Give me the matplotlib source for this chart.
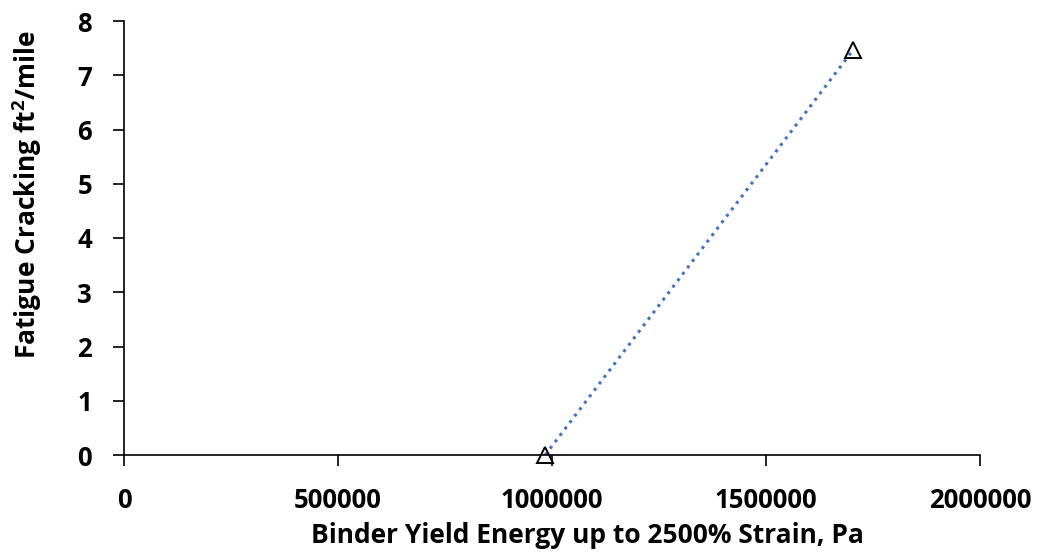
import numpy as np
import matplotlib.pyplot as plt

# data
yield_energy = [984000, 1703000]
fatigue_cracking = [0.0, 7.46]
x_ticks = [0, 500000, 1000000, 1500000, 2000000]
y_ticks = [0, 1, 2, 3, 4, 5, 6, 7, 8]

plt.rcParams['font.family'] = ['Open Sans', 'DejaVu Sans']
plt.rcParams['font.weight'] = 'bold'
plt.rcParams['mathtext.fontset'] = 'custom'
plt.rcParams['mathtext.bf'] = 'Open Sans:bold'

fig = plt.figure(figsize=(10.39, 5.54), dpi=100)
ax = fig.add_axes([124 / 1039, 1 - 455 / 554, (980 - 124) / 1039, (455 - 21) / 554])

# linear trendline (Excel style) through the points
coef = np.polyfit(yield_energy, fatigue_cracking, 1)
xt = np.array([min(yield_energy), max(yield_energy)])
ax.plot(xt, np.polyval(coef, xt), ':', color='#4472C4', linewidth=2.2, zorder=2)

ax.plot(yield_energy, fatigue_cracking, '^', markersize=11, markerfacecolor='none',
        markeredgecolor='black', markeredgewidth=1.4, linestyle='none', zorder=3, clip_on=False)

ax.set_xlim(0, 2000000)
ax.set_ylim(0, 8)
ax.set_xticks(x_ticks)
ax.set_yticks(y_ticks)
ax.set_xticklabels([str(v) for v in x_ticks], fontweight='bold')
ax.set_yticklabels([str(v) for v in y_ticks], fontweight='bold')
ax.tick_params(axis='both', labelsize=18.5, direction='out', length=8, width=1.2)
ax.tick_params(axis='x', pad=15)
ax.tick_params(axis='y', pad=15)

for s in ['top', 'right']:
    ax.spines[s].set_visible(False)
for s in ['left', 'bottom']:
    ax.spines[s].set_linewidth(1.2)

ax.set_xlabel('Binder Yield Energy up to 2500% Strain, Pa', fontsize=19, fontweight='bold')
ax.set_ylabel(r'Fatigue Cracking ft$^{\mathbf{2}}$/mile', fontsize=19, fontweight='bold')
ax.xaxis.set_label_coords(0.541, -0.155)
ax.yaxis.set_label_coords(-0.094, 0.60)

fig.savefig('out.png', dpi=100)
